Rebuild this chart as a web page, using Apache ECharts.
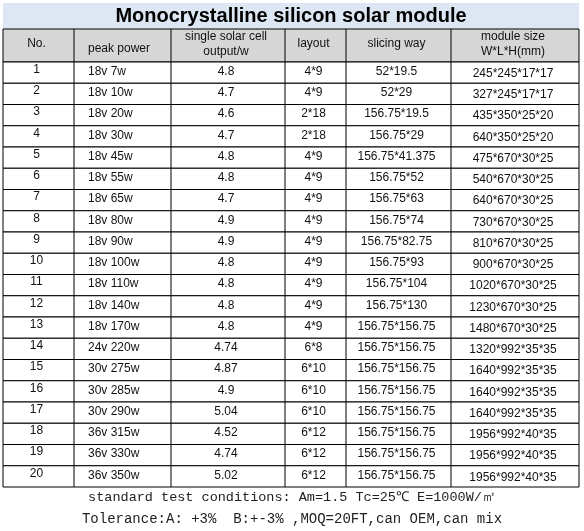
<!DOCTYPE html>
<html><head><meta charset="utf-8">
<script src="https://cdn.jsdelivr.net/npm/echarts@6/dist/echarts.min.js"></script>
<style>html,body{margin:0;padding:0;background:#fff}#c{width:584px;height:531px}</style>
</head><body><div id="c"></div>
<script>
const title = 'Monocrystalline silicon solar module';
const headers = ['No.', 'peak power', 'single solar cell\noutput/w', 'layout', 'slicing way', 'module size\nW*L*H(mm)'];
const numbers = ['1','2','3','4','5','6','7','8','9','10','11','12','13','14','15','16','17','18','19','20'];
const peakPower = ['18v 7w','18v 10w','18v 20w','18v 30w','18v 45w','18v 55w','18v 65w','18v 80w','18v 90w','18v 100w','18v 110w','18v 140w','18v 170w','24v 220w','30v 275w','30v 285w','30v 290w','36v 315w','36v 330w','36v 350w'];
const cellOutput = ['4.8','4.7','4.6','4.7','4.8','4.8','4.7','4.9','4.9','4.8','4.8','4.8','4.8','4.74','4.87','4.9','5.04','4.52','4.74','5.02'];
const layoutCol = ['4*9','4*9','2*18','2*18','4*9','4*9','4*9','4*9','4*9','4*9','4*9','4*9','4*9','6*8','6*10','6*10','6*10','6*12','6*12','6*12'];
const slicing = ['52*19.5','52*29','156.75*19.5','156.75*29','156.75*41.375','156.75*52','156.75*63','156.75*74','156.75*82.75','156.75*93','156.75*104','156.75*130','156.75*156.75','156.75*156.75','156.75*156.75','156.75*156.75','156.75*156.75','156.75*156.75','156.75*156.75','156.75*156.75'];
const moduleSize = ['245*245*17*17','327*245*17*17','435*350*25*20','640*350*25*20','475*670*30*25','540*670*30*25','640*670*30*25','730*670*30*25','810*670*30*25','900*670*30*25','1020*670*30*25','1230*670*30*25','1480*670*30*25','1320*992*35*35','1640*992*35*35','1640*992*35*35','1640*992*35*35','1956*992*40*35','1956*992*40*35','1956*992*40*35'];
const footer1 = 'standard test conditions: Am=1.5 Tc=25℃ E=1000W/㎡';
const footer2 = 'Tolerance:A: +3%  B:+-3% ,MOQ=20FT,can OEM,can mix';

const edges = [3, 74, 171, 285, 346, 451, 579];
const cols = [numbers, peakPower, cellOutput, layoutCol, slicing, moduleSize];
const rows = numbers.map((n, i) => [i].concat(cols.map(c => c[i])));

const chart = echarts.init(document.getElementById('c'));
const font = 'Arial, "Liberation Sans", sans-serif';
const mono = '"Liberation Mono", "DejaVu Sans Mono", monospace';
function cellText(x0, x1, yc, txt, ci, fs) {
  const left = ci === 1;
  return {type: 'text', style: {text: txt, x: left ? x0 + 14 : (x0 + x1) / 2 - 2, y: yc - 1,
    align: left ? 'left' : 'center', verticalAlign: 'middle', font: fs + 'px ' + font, fill: '#111', lineHeight: 15}};
}
chart.setOption({
  animation: false,
  grid: {left: 3, right: 5, top: 62, bottom: 44},
  xAxis: {type: 'value', min: 0, max: 1, show: false},
  yAxis: {type: 'category', data: numbers, inverse: true, show: false},
  graphic: [
    {type: 'rect', shape: {x: 3, y: 3, width: 576, height: 26}, style: {fill: '#dce7f3', stroke: null}},
    {type: 'text', style: {text: title, x: 291, y: 16, align: 'center', verticalAlign: 'middle', font: 'bold 20px ' + font, fill: '#000'}},
    {type: 'group', children: [{type: 'rect', shape: {x: 3, y: 29, width: 576, height: 33}, style: {fill: '#d6d6d6', stroke: '#000', lineWidth: 1}}]
      .concat(edges.slice(1, -1).map(x => ({type: 'line', shape: {x1: x, y1: 29, x2: x, y2: 62}, style: {stroke: '#000', lineWidth: 1}})))
      .concat(headers.map((h, ci) => cellText(edges[ci], edges[ci + 1], ci === 1 ? 50 : 45, h, ci, 12)))},
    {type: 'text', style: {text: footer1, x: 292, y: 497, align: 'center', verticalAlign: 'middle', font: '13.5px ' + mono, fill: '#222'}},
    {type: 'text', style: {text: footer2, x: 292, y: 519, align: 'center', verticalAlign: 'middle', font: '14px ' + mono, fill: '#222'}}
  ],
  series: [{
    type: 'custom',
    data: rows,
    encode: {y: 0},
    renderItem: function (params, api) {
      const i = api.value(0);
      const yc = api.coord([0, i])[1];
      const h = api.size([0, 1])[1];
      const y0 = yc - h / 2;
      const children = [{type: 'rect', shape: {x: 3, y: y0, width: 576, height: h}, style: {fill: '#fff', stroke: '#000', lineWidth: 1}}];
      for (let k = 1; k < edges.length - 1; k++)
        children.push({type: 'line', shape: {x1: edges[k], y1: y0, x2: edges[k], y2: y0 + h}, style: {stroke: '#000', lineWidth: 1}});
      for (let ci = 0; ci < 6; ci++) {
        const t = cellText(edges[ci], edges[ci + 1], yc, String(api.value(ci + 1)), ci, 12);
        if (ci === 0) t.style.y = yc - 3;
        if (ci === 5) t.style.y = yc + 1;
        children.push(t);
      }
      return {type: 'group', children: children};
    }
  }]
});
</script></body></html>
